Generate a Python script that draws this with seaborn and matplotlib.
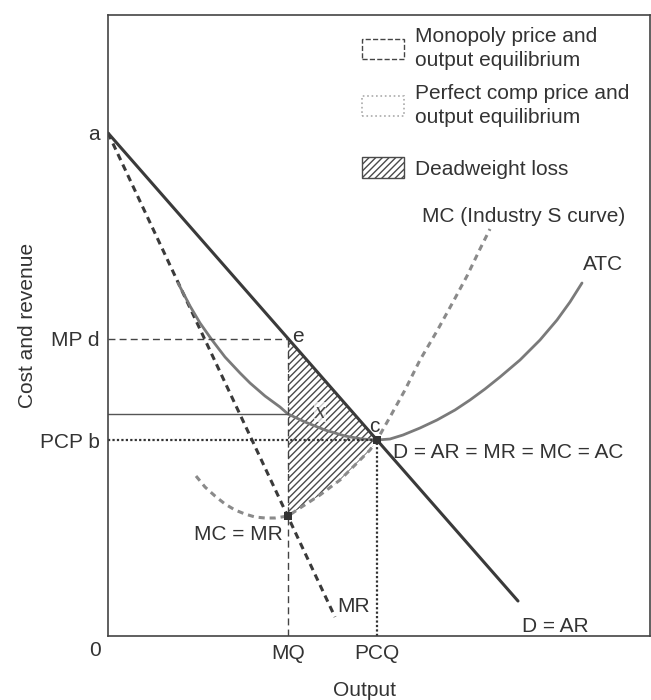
import matplotlib
matplotlib.use("Agg")
import matplotlib.pyplot as plt
import numpy as np
import pandas as pd
import seaborn as sns
from matplotlib.patches import Patch

# demand (D = AR) and marginal revenue, straight lines from point a
demand_q = [0.0, 41.0]
demand_p = [50.3, 3.5]
mr_q = [0.0, 22.7]
mr_p = [50.3, 1.9]

# marginal cost (industry supply) curve
mc_q = [8.8, 9.7, 10.7, 11.7, 12.7, 13.7, 14.7, 15.7, 16.7, 18.0, 19.2, 21.2, 23.2,
        24.9, 26.2, 26.9, 28.2, 29.7, 31.2, 32.9, 34.5, 35.9, 37.2, 38.2]
mc_p = [16.0, 14.9, 14.0, 13.2, 12.6, 12.2, 11.9, 11.8, 11.8, 12.0, 12.8, 14.1, 15.6,
        17.3, 18.6, 19.6, 21.9, 24.6, 27.6, 30.5, 33.4, 36.0, 38.7, 40.7]

# average total cost curve
atc_q = [7.0, 8.2, 9.2, 10.4, 11.7, 13.2, 14.2, 15.7, 17.2, 18.0, 19.7, 21.7, 23.7, 25.4,
         26.9, 28.2, 29.5, 31.2, 32.9, 34.7, 36.2, 37.7, 39.2, 41.2, 43.2, 44.9, 46.2, 47.4]
atc_p = [35.3, 33.0, 31.3, 29.6, 27.9, 26.3, 25.3, 24.0, 22.9, 22.2, 21.4, 20.6, 20.0, 19.7,
         19.6, 19.7, 20.1, 20.8, 21.6, 22.6, 23.6, 24.7, 25.9, 27.6, 29.6, 31.6, 33.4, 35.3]

# equilibrium values
price_a = 50.3
mq, mp = 18.0, 29.7
pcq, pcp = 26.9, 19.6
mc_mr = 12.0
atc_at_mq = 22.2

ytick_labels = ["a", "MP d", "PCP b"]
xtick_labels = ["MQ", "PCQ"]
legend_labels = [
    "Monopoly price and\noutput equilibrium",
    "Perfect comp price and\noutput equilibrium",
    "Deadweight loss",
]

sns.set_theme(style="white")
plt.rcParams["font.family"] = ["Liberation Sans", "DejaVu Sans"]
plt.rcParams["hatch.linewidth"] = 1.0
txt = "#333333"
fs = 15

fig = plt.figure(figsize=(6.51, 7.0), dpi=100)
ax = fig.add_axes([108 / 651, 1 - 636 / 700, 542 / 651, 621 / 700])

# deadweight loss triangle: e -> down MQ -> along MC -> c -> back along D
mc_arr = np.array(mc_q)
keep = (mc_arr >= mq) & (mc_arr <= pcq)
poly_q = [mq] + list(mc_arr[keep]) + [mq]
poly_p = [mp] + list(np.array(mc_p)[keep]) + [mp]
ax.fill(poly_q, poly_p, facecolor="none", edgecolor="#4a4a4a", hatch="/////", linewidth=0)

sns.lineplot(x=demand_q, y=demand_p, ax=ax, color="#3a3a3a", lw=2.2)
sns.lineplot(x=mr_q, y=mr_p, ax=ax, color="#3a3a3a", lw=2.2, linestyle=(0, (2.2, 1.6)))
sns.lineplot(x=atc_q, y=atc_p, ax=ax, color="#7a7a7a", lw=2.0, sort=False)
sns.lineplot(x=mc_q, y=mc_p, ax=ax, color="#8a8a8a", lw=2.2, linestyle=(0, (2.0, 1.6)), sort=False)

# reference lines to the axes
ax.plot([0, mq], [mp, mp], color="#444444", lw=1, linestyle=(0, (5, 3)))
ax.plot([mq, mq], [0, mp], color="#444444", lw=1, linestyle=(0, (5, 3)))
ax.plot([0, pcq], [pcp, pcp], color="#333333", lw=1.6, linestyle=(0, (1, 1)))
ax.plot([pcq, pcq], [0, pcp], color="#333333", lw=1.6, linestyle=(0, (1, 1)))
ax.plot([0, mq], [atc_at_mq, atc_at_mq], color="#555555", lw=1)

pts = pd.DataFrame({"q": [pcq, mq], "p": [pcp, mc_mr]})
sns.scatterplot(data=pts, x="q", y="p", ax=ax, marker="s", s=40, color="#333333",
                edgecolor="none", zorder=5)

ax.set_xlim(0, 54.2)
ax.set_ylim(0, 62.1)
ax.set_xticks([mq, pcq])
ax.set_xticklabels(xtick_labels)
ax.set_yticks([price_a, mp, pcp])
ax.set_yticklabels(ytick_labels)
ax.tick_params(length=0, labelsize=fs, colors=txt)
ax.tick_params(axis="x", pad=6)
ax.tick_params(axis="y", pad=6)
for s in ax.spines.values():
    s.set_color("#444444")
    s.set_linewidth(1.2)

ax.set_xlabel("Output", fontsize=fs, color=txt)
ax.xaxis.set_label_coords((365 - 108) / 542, -45 / 621)
ax.set_ylabel("Cost and revenue", fontsize=fs, color=txt)
ax.yaxis.set_label_coords(-71 / 542, 0.5)

ax.annotate("0", xy=(0, 0), xytext=(-13, -14), textcoords="offset pixels",
            ha="center", va="center", fontsize=fs, color=txt)

ax.annotate("e", xy=(mq, mp), xytext=(4, 2), textcoords="offset pixels",
            ha="left", va="center", fontsize=fs, color=txt)
ax.annotate("c", xy=(pcq, pcp), xytext=(-3, 13), textcoords="offset pixels",
            ha="center", va="center", fontsize=fs, color=txt)
ax.text(21.2, 22.4, "x", style="italic", fontsize=fs, color="#444444", ha="center", va="center",
        bbox=dict(facecolor="white", edgecolor="none", alpha=0.7, pad=0.5))
ax.text(28.5, 18.4, "D = AR = MR = MC = AC", fontsize=fs, color=txt, ha="left", va="center")
ax.text(17.5, 10.1, "MC = MR", fontsize=fs, color=txt, ha="right", va="center")
ax.text(22.9, 3.0, "MR", fontsize=fs, color=txt, ha="left", va="center")
ax.text(41.4, 1.0, "D = AR", fontsize=fs, color=txt, ha="left", va="center")
ax.text(47.5, 37.1, "ATC", fontsize=fs, color=txt, ha="left", va="center")
ax.text(31.4, 41.9, "MC (Industry S curve)", fontsize=fs, color=txt, ha="left", va="center")

handles = [
    Patch(facecolor="none", edgecolor="#444444", linestyle="--", linewidth=1),
    Patch(facecolor="none", edgecolor="#aaaaaa", linestyle=":", linewidth=1.2),
    Patch(facecolor="white", edgecolor="#4a4a4a", hatch="/////", linewidth=1),
]
leg_kw = dict(bbox_transform=fig.transFigure, frameon=False, fontsize=fs, labelcolor=txt,
              handlelength=2.0, handleheight=1.15, handletextpad=0.55,
              borderpad=0, borderaxespad=0)
leg1 = ax.legend(handles[:2], legend_labels[:2], loc="upper left",
                 bbox_to_anchor=(362 / 651, 1 - 27 / 700), labelspacing=0.67, **leg_kw)
for t in leg1.get_texts():
    t.set_linespacing(1.34)
ax.add_artist(leg1)
ax.legend(handles[2:], legend_labels[2:], loc="center left",
          bbox_to_anchor=(362 / 651, 1 - 168 / 700), **leg_kw)

fig.savefig("out.png", dpi=100)
